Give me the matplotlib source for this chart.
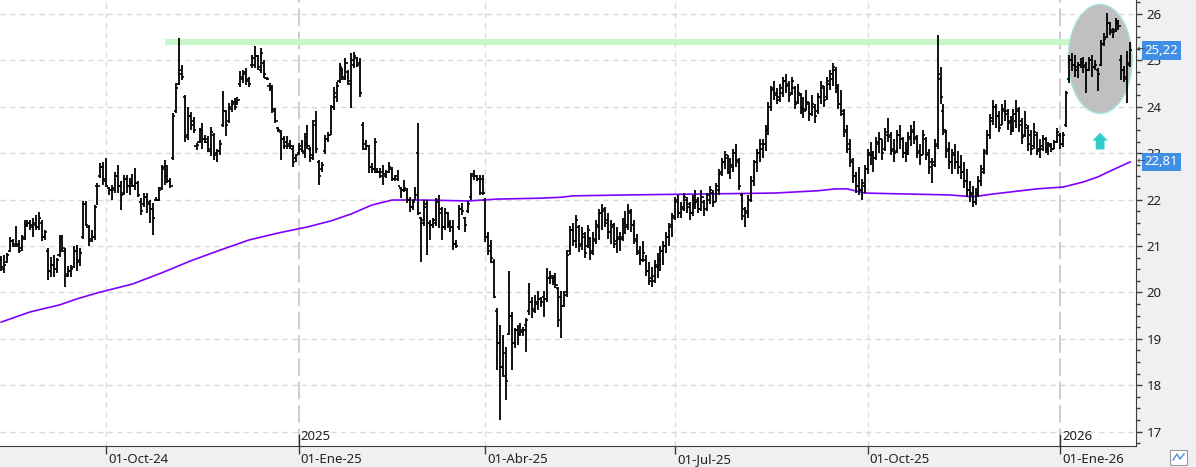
import matplotlib.pyplot as plt
import matplotlib.transforms as mtransforms
from matplotlib.patches import Ellipse, FancyArrow, Rectangle
from matplotlib.lines import Line2D
from matplotlib.ticker import MultipleLocator
import numpy as np
import pandas as pd

plt.rcParams['font.family'] = ['Noto Sans', 'DejaVu Sans']

# daily bars, business days
start_date = '2024-08-12'
n_bars = 388

highs = [
    20.78, 20.80, 20.85, 21.20, 21.15, 21.42, 21.13, 21.24, 21.55, 21.56, 21.56, 21.60, 21.66, 21.74, 21.56, 21.34, 20.95,
    20.77, 20.80, 20.74, 21.24, 21.24, 20.95, 20.56, 20.59, 20.99, 21.02, 20.95, 21.96, 21.96, 21.45, 21.34, 21.88,
    22.35, 22.78, 22.80, 22.89, 22.28, 22.32, 22.60, 22.75, 22.39, 22.53, 22.53, 22.46, 22.56, 22.67, 22.39, 22.03, 22.14,
    22.14, 21.99, 21.92, 22.06, 22.28, 22.75, 22.85, 22.75, 22.46, 23.86, 24.51, 25.48, 24.90, 24.25, 24.00, 23.89,
    23.77, 23.21, 23.54, 23.64, 23.39, 23.36, 23.57, 23.43, 23.10, 23.28, 24.33, 23.93, 24.07, 24.15, 24.18, 24.22,
    24.76, 24.79, 24.83, 24.65, 25.12, 25.30, 25.12, 25.26, 25.01, 24.65, 24.51, 24.47, 23.97, 23.57, 23.50, 23.36,
    23.36, 23.28, 23.18, 22.99, 23.21, 23.28, 23.43, 23.61, 23.14, 23.71, 23.90, 22.85, 22.82, 23.39, 23.46, 24.04, 24.43,
    24.54, 24.94, 24.83, 25.04, 24.79, 25.15, 25.19, 25.08, 25.04, 23.68, 23.28, 23.18, 22.78, 23.32, 22.67, 22.67,
    22.75, 22.64, 22.82, 22.71, 22.53, 22.64, 22.28, 22.42, 22.24, 22.06, 21.99, 22.28, 23.66, 21.63, 21.99, 21.99, 21.56,
    21.60, 22.03, 22.10, 21.85, 21.81, 21.74, 21.56, 21.56, 21.13, 21.88, 21.92, 21.63, 21.96, 22.57, 22.64, 22.53, 22.53,
    22.53, 22.03, 21.31, 21.13, 20.73, 19.66, 19.30, 19.08, 18.83, 20.45, 19.58, 19.23, 19.30, 19.33, 19.26, 19.44,
    20.20, 19.91, 19.94, 20.02, 19.91, 20.02, 20.52, 20.45, 20.37, 20.41, 20.12, 20.02, 20.02, 20.91, 21.42,
    21.50, 21.67, 21.45, 21.40, 21.30, 21.45, 21.20, 21.30, 21.55, 21.80, 21.90, 21.85, 21.70, 21.55, 21.50, 21.40, 21.30,
    21.60, 21.75, 21.90, 21.80, 21.55, 21.25, 21.00, 21.10, 20.80, 20.65, 20.55, 20.70, 20.85, 21.00, 21.10, 21.30,
    21.50, 21.70, 22.05, 22.10, 21.95, 22.15, 22.05, 21.95, 22.10, 22.20, 22.05, 22.20, 22.00, 22.15, 22.30, 22.20, 22.35,
    22.65, 22.90, 23.05, 22.95, 22.90, 23.10, 23.20, 22.90, 22.15, 21.85, 22.10, 22.50, 22.85, 23.10, 23.30, 23.30,
    23.60, 24.10, 24.45, 24.55, 24.40, 24.50, 24.65, 24.70, 24.55, 24.65, 24.45, 24.50, 24.30, 24.20, 24.35, 24.10,
    24.25, 24.05, 24.30, 24.55, 24.45, 24.65, 24.80, 24.95, 24.85, 24.50, 24.35, 23.95, 23.60, 23.30, 22.90, 22.60,
    22.70, 22.45, 22.75, 23.10, 23.25, 23.05, 23.35, 23.45, 23.30, 23.55, 23.75, 23.45, 23.30, 23.50, 23.60, 23.35, 23.25,
    23.45, 23.60, 23.70, 23.40, 23.20, 23.50, 23.35, 23.10, 22.90, 23.30, 25.55, 24.85, 24.05, 23.50, 23.25, 23.10,
    23.20, 23.05, 22.95, 22.80, 22.65, 22.40, 22.30, 22.25, 22.50, 22.75, 23.10, 23.50, 23.85, 24.15, 24.05, 23.90, 24.05,
    24.15, 23.95, 23.80, 23.95, 24.15, 24.00, 23.75, 23.90, 23.60, 23.50, 23.65, 23.45, 23.30, 23.40, 23.35, 23.25,
    23.21, 23.29, 23.54, 23.43, 23.46, 24.33, 25.12, 25.15, 25.12, 24.97, 25.05, 25.08, 24.97, 25.08, 25.12, 25.01,
    24.83, 25.44, 25.58, 26.03, 25.83, 25.69, 25.91, 25.87, 25.12, 24.87, 25.20, 25.40,
]
lows = [
    20.45, 20.42, 20.63, 20.88, 20.98, 20.99, 20.84, 20.90, 21.13, 21.40, 21.34, 21.20, 21.34, 21.34, 21.10, 21.13, 20.27,
    20.34, 20.34, 20.41, 20.77, 20.88, 20.12, 20.34, 20.34, 20.52, 20.45, 20.56, 21.16, 21.42, 20.99, 21.09, 21.13,
    21.88, 22.46, 22.32, 22.28, 22.10, 21.99, 22.14, 22.14, 21.78, 22.10, 22.14, 22.10, 22.28, 22.21, 22.06, 21.67, 21.85,
    21.70, 21.49, 21.24, 21.96, 21.96, 22.21, 22.32, 22.35, 22.24, 22.85, 23.86, 24.47, 24.58, 23.25, 23.28, 23.50,
    23.43, 23.07, 23.21, 23.10, 23.21, 23.03, 22.93, 22.85, 22.82, 22.96, 23.57, 23.36, 23.64, 23.89, 23.93, 24.04,
    24.43, 24.51, 24.47, 24.43, 24.83, 24.83, 24.79, 24.72, 24.61, 24.58, 24.33, 23.86, 23.64, 23.46, 22.85, 23.10,
    23.10, 23.10, 22.71, 22.82, 22.96, 23.03, 22.89, 23.10, 22.82, 22.85, 23.00, 22.31, 22.60, 22.99, 23.25, 23.39, 23.93,
    24.11, 24.51, 24.58, 24.58, 24.47, 23.97, 24.83, 24.86, 24.22, 23.07, 23.07, 22.57, 22.57, 22.57, 22.57, 22.46,
    22.32, 22.46, 22.57, 22.39, 22.39, 22.39, 22.03, 22.17, 21.92, 21.74, 21.78, 21.99, 21.67, 20.66, 21.42, 20.81, 21.13,
    21.38, 21.42, 21.38, 21.13, 21.35, 21.38, 21.31, 20.91, 20.95, 21.35, 21.67, 21.31, 21.70, 22.00, 22.42, 22.39, 22.10,
    22.10, 21.09, 20.80, 20.63, 19.87, 18.33, 17.25, 18.18, 17.68, 19.08, 18.33, 18.80, 18.87, 19.05, 19.05, 18.72,
    19.51, 19.44, 19.55, 19.62, 19.69, 19.48, 19.80, 20.19, 20.16, 20.09, 19.26, 19.01, 19.69, 19.91, 20.81,
    21.00, 20.95, 20.86, 20.91, 20.75, 20.96, 20.70, 20.80, 21.05, 21.13, 21.35, 21.40, 21.15, 21.05, 20.95, 20.85, 20.90,
    21.10, 21.25, 21.35, 21.30, 21.05, 20.80, 20.60, 20.65, 20.35, 20.15, 20.12, 20.20, 20.30, 20.45, 20.60, 20.85,
    21.00, 21.20, 21.55, 21.60, 21.60, 21.75, 21.70, 21.55, 21.65, 21.80, 21.70, 21.75, 21.65, 21.75, 21.90, 21.85, 21.95,
    22.10, 22.50, 22.65, 22.55, 22.45, 22.60, 22.70, 22.20, 21.55, 21.40, 21.60, 21.95, 22.30, 22.60, 22.80, 22.90,
    23.05, 23.40, 23.90, 24.15, 24.05, 24.10, 24.20, 24.30, 24.10, 24.25, 23.95, 24.05, 23.85, 23.75, 23.90, 23.70,
    23.80, 23.65, 23.85, 24.05, 24.00, 24.15, 24.35, 24.45, 24.30, 23.95, 23.80, 23.35, 23.00, 22.70, 22.35, 22.15,
    22.10, 21.98, 22.15, 22.55, 22.75, 22.60, 22.85, 23.00, 22.85, 23.05, 23.25, 22.95, 22.80, 23.00, 23.10, 22.90, 22.80,
    22.95, 23.15, 23.20, 22.90, 22.75, 22.95, 22.85, 22.55, 22.35, 22.70, 23.10, 24.05, 23.40, 22.90, 22.65, 22.55,
    22.65, 22.55, 22.45, 22.25, 22.05, 21.95, 21.85, 21.88, 22.05, 22.30, 22.55, 22.95, 23.30, 23.60, 23.55, 23.45, 23.60,
    23.70, 23.50, 23.40, 23.45, 23.55, 23.45, 23.20, 23.35, 23.05, 22.95, 23.10, 22.95, 22.90, 23.05, 23.00, 22.95,
    23.03, 23.10, 23.21, 23.10, 23.14, 23.57, 24.51, 24.76, 24.65, 24.61, 24.83, 24.72, 24.29, 24.76, 24.65, 24.79,
    24.33, 24.87, 25.30, 25.48, 25.55, 25.48, 25.62, 25.66, 24.58, 24.54, 24.07, 24.85,
]
opens = [
    20.70, 20.50, 20.65, 20.90, 21.10, 21.00, 21.05, 20.95, 21.20, 21.45, 21.50, 21.40, 21.45, 21.40, 21.50, 21.20, 20.90,
    20.45, 20.60, 20.50, 20.80, 21.15, 20.90, 20.40, 20.45, 20.55, 20.90, 20.70, 21.20, 21.90, 21.40, 21.15, 21.20,
    22.30, 22.50, 22.70, 22.40, 22.25, 22.20, 22.20, 22.50, 22.30, 22.15, 22.45, 22.30, 22.35, 22.30, 22.35, 21.95, 21.90,
    22.05, 21.90, 21.80, 21.98, 22.00, 22.25, 22.70, 22.50, 22.40, 22.90, 23.90, 24.50, 24.70, 24.20, 23.40, 23.80,
    23.70, 23.15, 23.25, 23.50, 23.30, 23.30, 23.05, 23.40, 23.00, 23.05, 23.60, 23.90, 23.70, 23.95, 24.10, 24.10,
    24.50, 24.60, 24.75, 24.60, 24.90, 24.90, 25.10, 24.80, 24.95, 24.62, 24.45, 24.40, 23.90, 23.55, 23.45, 23.30,
    23.25, 23.20, 23.10, 22.90, 23.00, 23.10, 23.00, 23.20, 23.10, 22.95, 23.70, 22.80, 22.65, 23.05, 23.30, 23.40, 24.00,
    24.20, 24.55, 24.80, 24.60, 24.75, 24.50, 24.90, 25.05, 24.95, 23.60, 23.10, 23.15, 22.70, 22.65, 22.60, 22.60,
    22.60, 22.50, 22.60, 22.65, 22.45, 22.45, 22.25, 22.20, 22.20, 22.00, 21.85, 22.00, 23.00, 21.60, 21.50, 21.90, 21.50,
    21.45, 21.50, 22.00, 21.80, 21.40, 21.70, 21.50, 21.40, 21.05, 21.40, 21.80, 21.60, 21.75, 22.05, 22.55, 22.50, 22.45,
    22.45, 22.00, 21.20, 21.00, 20.65, 19.60, 18.90, 18.40, 18.20, 19.10, 19.50, 18.90, 19.20, 19.10, 19.20, 19.30,
    19.60, 19.80, 19.60, 19.75, 19.85, 19.90, 19.85, 20.30, 20.30, 20.30, 20.10, 19.90, 19.70, 20.00, 20.90,
    21.35, 21.10, 21.40, 21.05, 21.20, 21.00, 21.15, 20.90, 21.10, 21.40, 21.70, 21.80, 21.55, 21.30, 21.45, 21.10, 21.15,
    21.15, 21.50, 21.45, 21.75, 21.45, 21.10, 20.85, 20.70, 20.70, 20.45, 20.30, 20.25, 20.55, 20.60, 20.90, 21.00,
    21.20, 21.45, 21.60, 22.00, 21.70, 21.80, 22.00, 21.90, 21.70, 21.90, 22.00, 21.80, 21.95, 21.80, 22.00, 22.15, 21.95,
    22.20, 22.60, 22.80, 22.95, 22.60, 22.70, 23.00, 22.80, 22.10, 21.80, 21.70, 22.00, 22.40, 22.80, 23.00, 23.10,
    23.20, 23.50, 24.00, 24.40, 24.30, 24.20, 24.30, 24.55, 24.50, 24.30, 24.40, 24.10, 24.25, 24.00, 23.95, 24.05,
    23.85, 24.00, 23.90, 24.20, 24.45, 24.20, 24.50, 24.60, 24.80, 24.40, 24.05, 23.85, 23.45, 23.20, 22.80, 22.50,
    22.30, 22.20, 22.30, 22.65, 22.95, 23.00, 22.90, 23.20, 23.30, 23.10, 23.40, 23.40, 23.10, 23.05, 23.40, 23.30, 23.00,
    23.00, 23.30, 23.50, 23.35, 23.05, 22.95, 23.30, 23.00, 22.80, 22.75, 23.20, 24.60, 23.90, 23.45, 23.10, 22.80,
    22.95, 22.80, 22.70, 22.60, 22.40, 22.20, 22.15, 21.95, 22.10, 22.40, 22.60, 23.05, 23.40, 23.70, 24.00, 23.80, 23.60,
    23.90, 23.90, 23.70, 23.55, 23.70, 23.95, 23.70, 23.40, 23.55, 23.40, 23.15, 23.40, 23.10, 23.10, 23.30, 23.10,
    23.15, 23.10, 23.25, 23.40, 23.20, 23.60, 24.60, 25.00, 24.90, 24.85, 24.90, 24.95, 24.90, 24.80, 25.00, 24.85,
    24.80, 24.90, 25.35, 25.50, 25.80, 25.65, 25.65, 25.80, 25.00, 24.80, 24.60, 24.90,
]
closes = [
    20.55, 20.60, 20.80, 21.10, 21.05, 21.00, 20.90, 21.15, 21.45, 21.50, 21.45, 21.50, 21.40, 21.60, 21.20, 21.30, 20.45,
    20.60, 20.50, 20.70, 21.15, 20.95, 20.35, 20.45, 20.50, 20.90, 20.65, 20.85, 21.90, 21.45, 21.10, 21.20, 21.85,
    22.30, 22.70, 22.45, 22.30, 22.20, 22.25, 22.50, 22.30, 22.10, 22.45, 22.30, 22.35, 22.30, 22.35, 22.10, 21.75, 22.05,
    21.95, 21.80, 21.60, 22.00, 22.20, 22.65, 22.50, 22.40, 22.30, 23.80, 24.40, 24.80, 24.65, 23.35, 23.80, 23.60,
    23.50, 23.18, 23.50, 23.30, 23.25, 23.10, 23.45, 22.95, 23.05, 23.20, 23.90, 23.60, 24.00, 24.05, 24.00, 24.15,
    24.65, 24.70, 24.55, 24.50, 25.05, 25.10, 24.85, 25.15, 24.70, 24.60, 24.40, 23.95, 23.70, 23.50, 23.30, 23.15,
    23.15, 23.15, 22.80, 22.95, 23.15, 23.05, 23.35, 23.15, 22.90, 23.60, 23.10, 22.50, 22.75, 23.30, 23.40, 24.00, 24.30,
    24.45, 24.85, 24.65, 24.95, 24.55, 25.00, 25.10, 24.90, 24.30, 23.20, 23.15, 22.70, 22.65, 23.25, 22.60, 22.50,
    22.55, 22.60, 22.70, 22.45, 22.50, 22.30, 22.20, 22.25, 22.00, 21.85, 21.95, 22.10, 21.70, 21.55, 21.85, 21.50, 21.45,
    21.55, 21.95, 21.70, 21.40, 21.70, 21.45, 21.40, 21.05, 21.00, 21.80, 21.75, 21.45, 21.90, 22.50, 22.50, 22.45, 22.15,
    22.15, 21.20, 20.90, 20.75, 19.90, 18.90, 18.40, 18.70, 18.10, 19.50, 18.90, 19.20, 19.10, 19.15, 19.20, 19.40,
    19.80, 19.65, 19.80, 19.85, 19.80, 19.85, 20.30, 20.35, 20.25, 20.15, 19.40, 19.70, 19.95, 20.80, 21.35,
    21.10, 21.55, 21.00, 21.25, 20.85, 21.35, 20.85, 21.15, 21.45, 21.70, 21.75, 21.50, 21.30, 21.40, 21.05, 21.20, 21.20,
    21.50, 21.40, 21.70, 21.45, 21.15, 20.90, 20.70, 20.85, 20.45, 20.25, 20.35, 20.60, 20.70, 20.90, 21.00, 21.20,
    21.40, 21.65, 21.95, 21.70, 21.85, 22.05, 21.85, 21.70, 22.00, 21.95, 21.80, 22.05, 21.80, 22.10, 22.20, 21.95, 22.30,
    22.55, 22.80, 22.90, 22.60, 22.75, 23.00, 22.85, 22.30, 21.65, 21.75, 22.00, 22.40, 22.80, 23.00, 23.20, 23.20,
    23.50, 24.00, 24.35, 24.25, 24.15, 24.40, 24.55, 24.45, 24.25, 24.55, 24.05, 24.30, 23.95, 23.90, 24.10, 23.85,
    24.05, 23.80, 24.20, 24.40, 24.15, 24.55, 24.70, 24.85, 24.40, 24.05, 23.90, 23.50, 23.10, 22.85, 22.50, 22.30,
    22.20, 22.35, 22.65, 23.00, 22.95, 22.90, 23.25, 23.30, 23.00, 23.45, 23.35, 23.05, 23.00, 23.40, 23.30, 23.00, 23.05,
    23.35, 23.45, 23.30, 23.00, 22.95, 23.40, 22.95, 22.70, 22.80, 23.15, 24.70, 24.20, 23.50, 23.05, 22.80, 23.00,
    22.80, 22.70, 22.60, 22.40, 22.20, 22.10, 21.95, 22.15, 22.40, 22.65, 23.00, 23.40, 23.75, 24.00, 23.80, 23.55, 23.95,
    23.85, 23.65, 23.50, 23.85, 23.90, 23.60, 23.35, 23.60, 23.20, 23.10, 23.45, 23.05, 23.15, 23.30, 23.10, 23.20,
    23.10, 23.25, 23.45, 23.20, 23.40, 24.30, 25.00, 24.90, 24.80, 24.90, 24.95, 24.85, 24.80, 25.00, 24.85, 24.90,
    24.70, 25.35, 25.45, 25.80, 25.60, 25.60, 25.85, 25.75, 24.80, 24.65, 24.95, 25.22,
]

# moving average (purple), read at bar positions
ma_idx = [0, 10, 20, 26, 33, 45, 55, 65, 75, 85, 95, 105, 113, 120, 127, 134, 145, 160, 170, 185, 192, 196,
          215, 240, 265, 280, 286, 290, 296, 310, 325, 333, 340, 355, 364, 371, 376, 381, 387]
ma_vals = [19.36, 19.58, 19.73, 19.86, 19.99, 20.18, 20.42, 20.68, 20.91, 21.13, 21.28, 21.41, 21.54, 21.69, 21.88,
           21.99, 21.99, 21.97, 22.01, 22.03, 22.05, 22.08, 22.10, 22.12, 22.14, 22.19, 22.23, 22.23, 22.14, 22.12,
           22.10, 22.06, 22.12, 22.23, 22.27, 22.38, 22.49, 22.64, 22.81]

# resistance band
resist_level = 25.40
resist_start = '2024-10-29'
resist_end = '2026-01-20'

# highlight ellipse + arrow
circle_date = '2026-01-20'
circle_price = 25.03
circle_w_bars = 22
circle_h_price = 2.35
arrow_from = 23.08
arrow_to = 23.44

tick_dates = ['2024-10-01', '2025-01-01', '2025-04-01', '2025-07-01', '2025-10-01', '2026-01-01']
tick_labels = ['01-Oct-24', '01-Ene-25', '01-Abr-25', '01-Jul-25', '01-Oct-25', '01-Ene-26']
year_dates = ['2025-01-01', '2026-01-01']
year_labels = ['2025', '2026']

print(len(highs), len(lows), len(opens), len(closes))

dates = pd.bdate_range(start_date, periods=n_bars)
x = np.arange(n_bars)
pos = lambda d: dates.get_loc(pd.Timestamp(d))

fig = plt.figure(figsize=(11.96, 4.67), dpi=100, facecolor='#f0f0f0')
ax = fig.add_axes([0, 21/467, 1136/1196, 446/467])
ax.set_facecolor('white')

# grid
for lev in range(17, 27):
    ax.axhline(lev, color='#dadada', lw=1, ls=(0, (4, 3)), zorder=0)
for d in tick_dates:
    if d in year_dates:
        ax.axvline(pos(d), color='#cccccc', lw=1.4, ls=(0, (9, 3)), zorder=0)
    else:
        ax.axvline(pos(d), color='#dcdcdc', lw=1, ls=(0, (4, 3)), zorder=0)

# resistance
ax.plot([pos(resist_start), pos(resist_end)], [resist_level, resist_level], color='#c9f7c9', lw=4.4,
        solid_capstyle='butt', zorder=1)

# highlight ellipse
ell = Ellipse((pos(circle_date) + 0.7, circle_price), circle_w_bars, circle_h_price, fc='#c0c0c0', ec='#a6e6e6',
              lw=1, zorder=1.5)
ax.add_patch(ell)
arr = FancyArrow(pos(circle_date) + 0.7, arrow_from, 0, arrow_to - arrow_from, width=3.0, head_width=5.3,
                 head_length=0.17, length_includes_head=True, fc='#33cccc', ec='none', zorder=2)
ax.add_patch(arr)

# MA
ax.plot(ma_idx, ma_vals, color='#8000ff', lw=1.2, zorder=2)

# OHLC bars
ax.vlines(x, lows, highs, color='black', lw=1.3, zorder=3)
ax.hlines(opens, x - 0.75, x, color='black', lw=1.2, zorder=3)
ax.hlines(closes, x, x + 0.75, color='black', lw=1.2, zorder=3)

ax.set_xlim(-0.4, 389.0)
ax.set_ylim(16.69, 26.30)

for s in ['left', 'top']:
    ax.spines[s].set_visible(False)
ax.spines['bottom'].set_color('#3c3c3c')
ax.spines['right'].set_color('#3c3c3c')

ax.yaxis.tick_right()
ax.yaxis.set_major_locator(MultipleLocator(1))
ax.yaxis.set_minor_locator(MultipleLocator(0.25))
ax.tick_params(axis='y', which='major', length=4.5, width=1, color='#3c3c3c', labelsize=9.5, pad=3,
               labelcolor='#222222')
ax.tick_params(axis='y', which='minor', length=3, width=1, color='#3c3c3c')

ax.set_xticks([pos(d) for d in tick_dates])
ax.set_xticklabels(tick_labels, ha='left')
ax.tick_params(axis='x', length=6, width=1, color='#3c3c3c', labelsize=9.5, pad=-1, labelcolor='#222222')
offset = mtransforms.ScaledTranslation(2/100, 0, fig.dpi_scale_trans)
for lab in ax.get_xticklabels():
    lab.set_transform(lab.get_transform() + offset)

# year markers
blend = mtransforms.blended_transform_factory(ax.transData, ax.transAxes)
for d, lab in zip(year_dates, year_labels):
    ax.plot([pos(d), pos(d)], [0, 0.024], color='#303030', lw=1, transform=blend, clip_on=False, zorder=4)
    ax.text(pos(d), 0.006, lab, transform=blend + offset, fontsize=9.5, color='#222222', ha='left', va='bottom')

# last value labels
ytr = ax.get_yaxis_transform()
for val in [closes[-1], ma_vals[-1]]:
    ax.text(1.0075, val, ('%.2f' % val).replace('.', ','), transform=ytr, fontsize=9.5, color='white',
            ha='left', va='center', clip_on=False, zorder=6,
            bbox=dict(boxstyle='square,pad=0.22', fc='#3f8fe6', ec='none'))
    ax.text(1.0008, val, '\u2190', transform=ytr, fontsize=7, color='#444444', ha='left', va='center',
            clip_on=False, zorder=6)

# small toolbar button bottom right
fig.patches.append(Rectangle((1170/1196, 2/467), 17/1196, 15/467, transform=fig.transFigure, fc='white',
                             ec='#9a9a9a', lw=0.8))
fig.lines.append(Line2D([1173/1196, 1177/1196, 1180/1196, 1184/1196], [7/467, 13/467, 8/467, 13/467],
                        transform=fig.transFigure, color='#4a90d9', lw=1))

plt.savefig('out.png', dpi=100, facecolor=fig.get_facecolor())
